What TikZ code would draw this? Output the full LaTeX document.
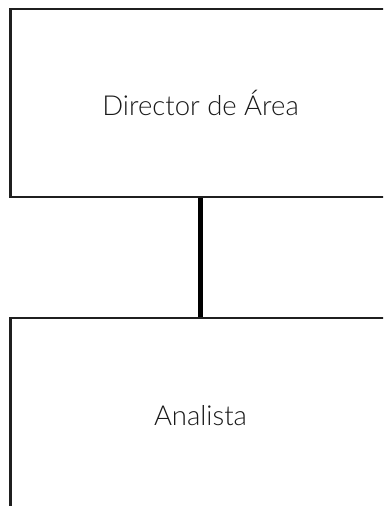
\documentclass[tikz,border=0pt]{standalone}
\usepackage{fontspec}
\setmainfont{Lato}[UprightFont=* Light]
\begin{document}
\begin{tikzpicture}[x=1pt,y=-1pt,
  role/.style={draw=black!88,line width=2.2pt,minimum width=380pt,minimum height=188pt,inner sep=0pt,font=\fontsize{27.5}{32}\selectfont,text=black!90},
  link/.style={line width=4.8pt,black}]
\useasboundingbox (0,0) rectangle (383,506);
\clip (0,0) rectangle (383,506);
\node[role] (dir) at (200.5,103) {Director de Área};
\node[role,minimum height=196pt] (ana) at (200.5,416) {\raisebox{2pt}{Analista}};
\draw[link] (dir.south) -- (ana.north);
\end{tikzpicture}
\end{document}
